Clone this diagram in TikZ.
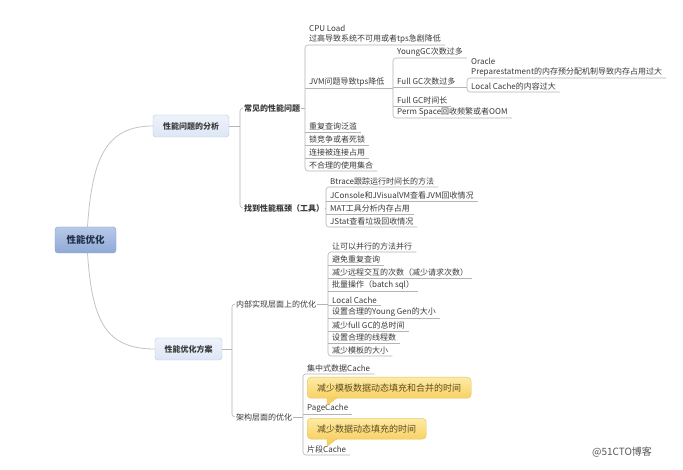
\documentclass[tikz,border=0pt]{standalone}
\usepackage{fontspec}
\setmainfont{Noto Sans CJK SC}
\usepackage{tikz}

\definecolor{txt}{HTML}{3A3A3A}
\definecolor{linegray}{HTML}{B4B4B4}
\definecolor{curvegray}{HTML}{C4C4C4}
\definecolor{roottop}{HTML}{B7C9E8}
\definecolor{rootbot}{HTML}{8FA9D6}
\definecolor{rootline}{HTML}{7F9BCB}
\definecolor{roottext}{HTML}{22304A}
\definecolor{topictop}{HTML}{EEF3FB}
\definecolor{topicbot}{HTML}{DCE6F5}
\definecolor{topicline}{HTML}{B8C7DF}
\definecolor{notetop}{HTML}{FDEBA6}
\definecolor{notebot}{HTML}{F8D163}
\definecolor{noteline}{HTML}{E3BF5A}
\definecolor{notetext}{HTML}{5E4C22}
\definecolor{marktext}{HTML}{555555}

\begin{document}
\begin{tikzpicture}[x=1pt, y=-1pt,
    link/.style={draw=linegray, line width=0.6pt},
    branch/.style={draw=curvegray, line width=0.8pt},
    rootbox/.style={draw=rootline, top color=roottop, bottom color=rootbot, rounded corners=3pt,
        minimum width=61pt, minimum height=26pt, text=roottext, font=\fontsize{9.5}{11}\selectfont\bfseries},
    topicbox/.style={draw=topicline, top color=topictop, bottom color=topicbot, rounded corners=3pt,
        minimum height=22pt, text=txt, font=\fontsize{8}{10}\selectfont\bfseries},
    subtopic/.style={anchor=west, inner xsep=1pt, inner ysep=1pt, text=txt, font=\fontsize{8}{10}\selectfont},
    leaf/.style={anchor=south west, inner xsep=4pt, inner ysep=1.5pt, align=left, text=txt, font=\fontsize{8}{10}\selectfont},
    note/.style={anchor=north west, draw=noteline, top color=notetop, bottom color=notebot, rounded corners=4pt,
        minimum height=21pt, inner xsep=10pt, text=notetext, font=\fontsize{9}{11}\selectfont}]

    \useasboundingbox[fill=white] (0,0) rectangle (683,470);

    \node[rootbox] (root) at (85.5,240) {性能优化};
    \node[topicbox, minimum width=76pt] (analysis) at (191,126) {性能问题的分析};
    \node[topicbox, minimum width=67pt] (plan) at (188.5,349) {性能优化方案};

    \draw[branch] ([xshift=2pt]root.north) .. controls (92,160) and (105,126) .. (analysis.west);
    \draw[branch] ([xshift=2pt]root.south) .. controls (92,320) and (105,349) .. (plan.west);

    % analysis
    \node[subtopic, font=\fontsize{8}{10}\selectfont\bfseries] (common) at (243,108) {常见的性能问题};
    \node[subtopic, font=\fontsize{8}{10}\selectfont\bfseries] (tool) at (243,208) {找到性能瓶颈（工具）};
    \draw[link] (analysis.east) -- ++(11,0);
    \draw[link, rounded corners=3pt] (common.west) -- ++(-3,0) |- (tool.west);

    \node[leaf] (cpu) at (305,45) {CPU Load\\过高导致系统不可用或者tps急剧降低};
    \node[leaf] (jvm) at (305,88) {JVM问题导致tps降低};
    \node[leaf] (dup) at (305,132) {重复查询泛滥};
    \node[leaf] (lock) at (305,145) {锁竞争或者死锁};
    \node[leaf] (conn) at (305,158) {连接被连接占用};
    \node[leaf] (coll) at (305,171) {不合理的使用集合};
    \draw[link] (common.east) -- (common.east -| cpu.south west);
    \draw[link, rounded corners=3pt] (cpu.south east) -- (cpu.south west) |- (coll.south east);
    \foreach \n in {jvm,dup,lock,conn}
        \draw[link] (\n.south west) -- (\n.south east);

    \node[leaf] (ygc) at (393,58) {YoungGC次数过多};
    \node[leaf] (fgc) at (393,87) {Full GC次数过多};
    \node[leaf] (fgct) at (393,106) {Full GC时间长};
    \node[leaf] (perm) at (393,118) {Perm Space回收频繁或者OOM};
    \draw[link] (jvm.south east) -- (jvm.south east -| ygc.south west);
    \draw[link, rounded corners=3pt] (ygc.south east) -- (ygc.south west) |- (perm.south east);
    \foreach \n in {fgc,fgct}
        \draw[link] (\n.south west) -- (\n.south east);

    \node[leaf] (oracle) at (467,78) {Oracle\\Preparestatment的内存预分配机制导致内存占用过大};
    \node[leaf] (lcache) at (467,92) {Local Cache的内容过大};
    \draw[link] (fgc.south east) -- (fgc.south east -| oracle.south west);
    \draw[link, rounded corners=3pt] (oracle.south east) -- (oracle.south west) |- (lcache.south east);

    \node[leaf] (btrace) at (326,187) {Btrace跟踪运行时间长的方法};
    \node[leaf] (jconsole) at (326,201) {JConsole和JVisualVM查看JVM回收情况};
    \node[leaf] (mat) at (326,214) {MAT工具分析内存占用};
    \node[leaf] (jstat) at (326,227) {JStat查看垃圾回收情况};
    \draw[link] (tool.east) -- (tool.east -| btrace.south west);
    \draw[link, rounded corners=3pt] (btrace.south east) -- (btrace.south west) |- (jstat.south east);
    \foreach \n in {jconsole,mat}
        \draw[link] (\n.south west) -- (\n.south east);

    % plan
    \node[subtopic] (inner) at (235,304) {内部实现层面上的优化};
    \node[subtopic] (arch) at (235,417) {架构层面的优化};
    \draw[link] (plan.east) -- ++(10,0);
    \draw[link, rounded corners=3pt] (inner.west) -- ++(-3,0) |- (arch.west);

    \node[leaf] (par) at (328,252) {让可以并行的方法并行};
    \node[leaf] (dupq) at (328,265) {避免重复查询};
    \node[leaf] (remote) at (328,278) {减少远程交互的次数（减少请求次数）};
    \node[leaf] (batch) at (328,291) {批量操作（batch sql）};
    \node[leaf] (lc) at (328,305) {Local Cache};
    \node[leaf] (young) at (328,318) {设置合理的Young Gen的大小};
    \node[leaf] (fullgc) at (328,331) {减少full GC的总时间};
    \node[leaf] (thread) at (328,343) {设置合理的线程数};
    \node[leaf] (tmpl) at (328,356) {减少模板的大小};
    \draw[link] (inner.east) -- (inner.east -| par.south west);
    \draw[link, rounded corners=3pt] (par.south east) -- (par.south west) |- (tmpl.south east);
    \foreach \n in {dupq,remote,batch,lc,young,fullgc,thread}
        \draw[link] (\n.south west) -- (\n.south east);

    \node[leaf] (central) at (303,374) {集中式数据Cache};
    \node[leaf] (page) at (303,414) {PageCache};
    \node[leaf] (frag) at (303,455) {片段Cache};
    \draw[link] (arch.east) -- (arch.east -| central.south west);
    \draw[link, rounded corners=3pt] (central.south east) -- (central.south west) |- (frag.south east);
    \draw[link] (page.south west) -- (page.south east);

    \node[note] (noteA) at (307,377) {减少模板数据动态填充和合并的时间};
    \node[note] (noteB) at (307,418) {减少数据动态填充的时间};
    \foreach \n in {noteA,noteB}
        \path[fill=notebot, draw=noteline, line join=round] ([xshift=20pt,yshift=0.6pt]\n.south west)
            -- ++(0,7.5) -- ([xshift=30pt,yshift=0.6pt]\n.south west);

    \node[text=marktext, font=\fontsize{10}{12}\selectfont] (mark) at (622,452) {@51CTO博客};
\end{tikzpicture}
\end{document}
